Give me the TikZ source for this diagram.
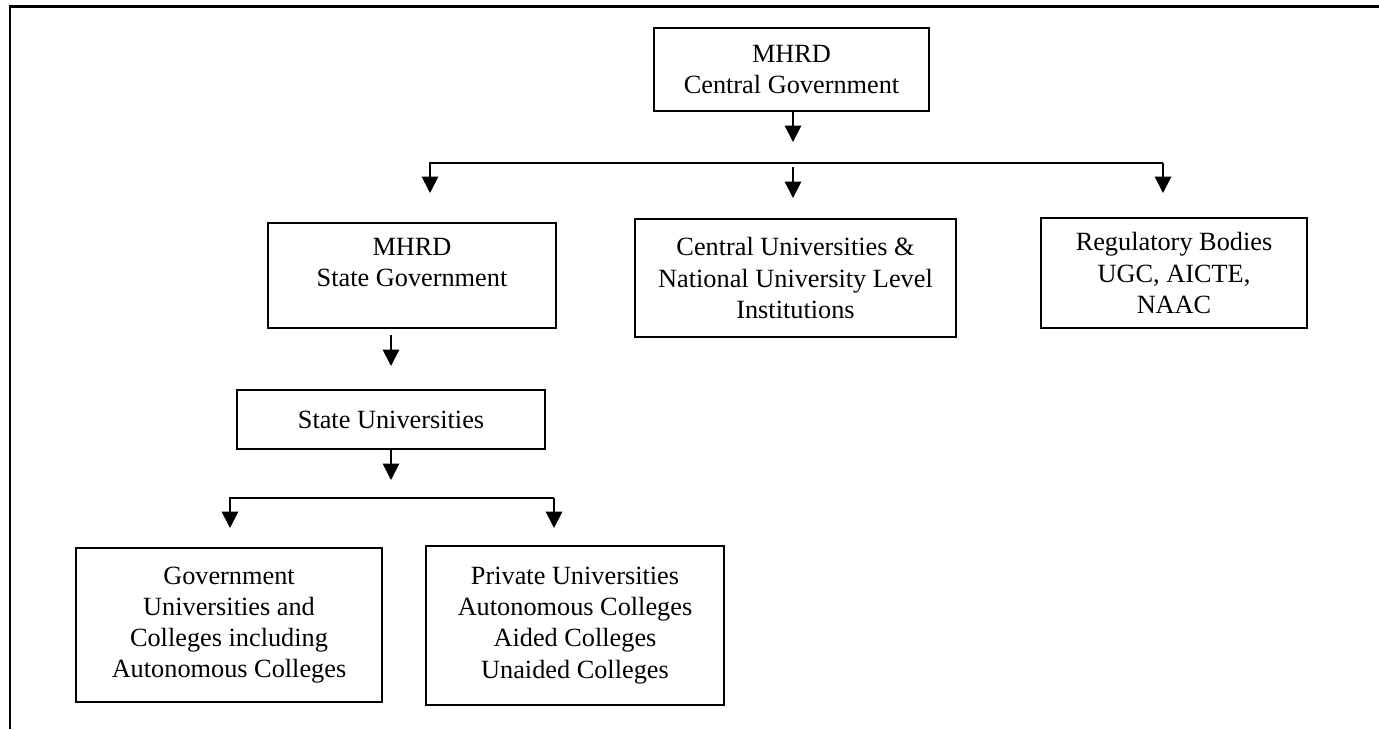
\documentclass[tikz,border=0pt]{standalone}
\usepackage{fontspec}
\setmainfont{Liberation Serif}
\usetikzlibrary{arrows.meta}
\newcommand\pxu{0.01604cm}
\tikzset{
  >={Triangle[width=7.5pt,length=7.5pt]},
  orgbox/.style 2 args={
    rectangle,
    draw=black, line width=0.8pt,
    align=center,
    inner sep=0pt,
    minimum width=#1*\pxu,
    minimum height=#2*\pxu,
    font=\fontsize{12}{14.2}\selectfont},
  link/.style={draw, line width=0.8pt},
  pageframe/.style={draw, line width=1.2pt},
}
\begin{document}
\begin{tikzpicture}[x=\pxu, y=-\pxu]
  \useasboundingbox (0,0) rectangle (1379,729);
  \draw[pageframe] (1379,6.5) -- (10,6.5) -- (10,729);
  % boxes
  \node[orgbox={275}{83}] (cgov) at (791.5,69.5) {MHRD\\Central Government};
  \node[orgbox={288}{105}, text depth=12pt] (sgov) at (412,275.5) {MHRD\\State Government};
  \node[orgbox={321}{118}] (cuni) at (795.5,278) {Central Universities \&\\National University Level\\Institutions};
  \node[orgbox={266}{110}] (reg) at (1174,273) {Regulatory Bodies\\UGC, AICTE,\\NAAC};
  \node[orgbox={308}{59}] (suni) at (391,419.5) {State Universities};
  \node[orgbox={306}{154}] (govt) at (229,625) {Government\\Universities and\\Colleges including\\Autonomous Colleges};
  \node[orgbox={298}{159}] (priv) at (575,625.5) {Private Universities\\Autonomous Colleges\\Aided Colleges\\Unaided Colleges};
  % connectors
  \coordinate (cgov-tip) at (793,142);
  \coordinate (bus-top) at (1163,163);
  \coordinate (bus-mid) at (793,167);
  \coordinate (sgov-tip) at (430,193);
  \coordinate (cuni-tip) at (793,198);
  \coordinate (reg-tip) at (1163,193);
  \coordinate (sgov-out) at (391,335);
  \coordinate (suni-tip) at (391,366);
  \coordinate (suni-out) at (391,480);
  \coordinate (bus-low) at (554,498);
  \coordinate (govt-tip) at (230,528);
  \coordinate (priv-tip) at (554,528);
  \draw[link,->] (cgov.south -| cgov-tip) -- (cgov-tip);
  \draw[link,->] (bus-top) -| (sgov-tip);
  \draw[link,->] (bus-top) -- (reg-tip);
  \draw[link,->] (bus-mid) -- (cuni-tip);
  \draw[link,->] (sgov-out) -- (suni-tip);
  \draw[link,->] (suni.south) -- (suni-out);
  \draw[link,->] (bus-low) -| (govt-tip);
  \draw[link,->] (bus-low) -- (priv-tip);
\end{tikzpicture}
\end{document}
